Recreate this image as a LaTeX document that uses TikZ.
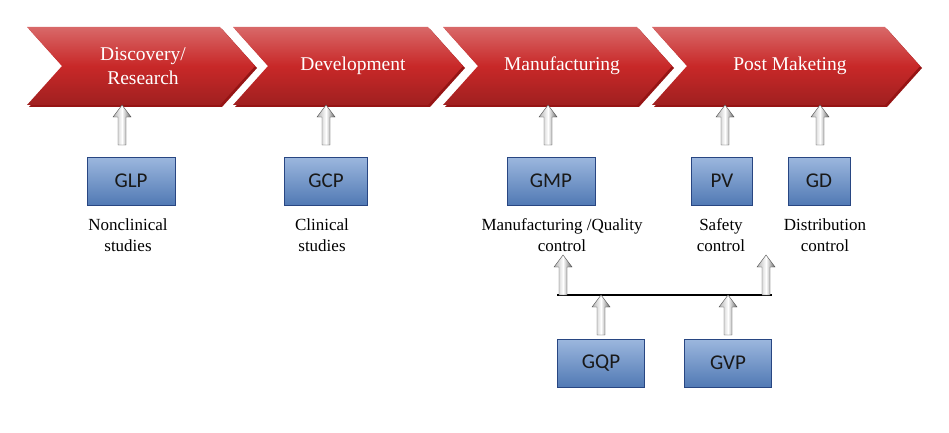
\documentclass[tikz,border=0pt]{standalone}
\usepackage{fontspec}
\setmainfont{Liberation Serif}
\newfontfamily\boxfont{Carlito}
\usetikzlibrary{calc}
\definecolor{chevred}{RGB}{200,40,40}
\definecolor{chevdark}{RGB}{150,20,20}
\definecolor{boxblue}{RGB}{90,135,200}
\definecolor{boxdark}{RGB}{40,70,130}
\tikzset{x=1pt,y=1pt,
 chevtext/.style={text=white,font=\fontsize{19.5}{24}\selectfont,align=center},
 gbox/.style={draw=boxdark,line width=1pt,top color=boxblue!60!white,bottom color=boxblue!90!black,minimum height=48pt,font=\boxfont\fontsize{21}{23}\selectfont,text=black!90},
 lbl/.style={font=\fontsize{17}{21}\selectfont,align=center}}
\newcommand\chev[2]{%
 \fill[chevdark] (#1+2,-29) -- (#2-33,-29) -- (#2+2,-68) -- (#2-33,-107) -- (#1+2,-107) -- (#1+37,-68) -- cycle;
 \shade[top color=chevred!70!white,bottom color=chevred!80!black,middle color=chevred] (#1,-27) -- (#2-35,-27) -- (#2,-66) -- (#2-35,-105) -- (#1,-105) -- (#1+35,-66) -- cycle;}
\newcommand\harrow[2]{%
 \draw[gray!60!black,left color=gray!60,right color=gray!80!black,middle color=white] let \p1=#1, \p2=#2 in
 (\x1-4pt,\y1) -- (\x1-4pt,\y2-12pt) -- (\x1-9pt,\y2-12pt) -- (\x1,\y2) -- (\x1+9pt,\y2-12pt) -- (\x1+4pt,\y2-12pt) -- (\x1+4pt,\y1) -- cycle;}
\begin{document}
\begin{tikzpicture}
\useasboundingbox (0,0) rectangle (949,-433);
\chev{27}{255}
\chev{233}{463}
\chev{443}{672}
\chev{652}{920}
\node[chevtext] (c1) at (143,-66) {Discovery/\\Research};
\node[chevtext] (c2) at (353,-66) {Development};
\node[chevtext] (c3) at (562,-66) {Manufacturing};
\node[chevtext] (c4) at (790,-66) {Post Maketing};
\node[gbox,minimum width=88pt] (glp) at (131,-181) {GLP};
\node[gbox,minimum width=83pt] (gcp) at (326,-181) {GCP};
\node[gbox,minimum width=88pt] (gmp) at (551,-181) {GMP};
\node[gbox,minimum width=61pt] (pv) at (722,-181) {PV};
\node[gbox,minimum width=62pt] (gd) at (819,-181) {GD};
\node[gbox,minimum width=87pt] (gqp) at (601,-363) {GQP};
\node[gbox,minimum width=87pt] (gvp) at (728,-363) {GVP};
\node[lbl] (l1) at (128,-235) {Nonclinical\\studies};
\node[lbl] (l2) at (322,-235) {Clinical\\studies};
\node[lbl] (l3) at (562,-235) {Manufacturing /Quality\\control};
\node[lbl] (l4) at (721,-235) {Safety\\control};
\node[lbl] (l5) at (825,-235) {Distribution\\control};
\coordinate (la) at (557,-295);
\coordinate (lb) at (772,-295);
\draw[line width=1.5pt] (la) -- (lb);
\harrow{(122,-145)}{(122,-105)}
\harrow{(326,-145)}{(326,-105)}
\harrow{(548,-145)}{(548,-105)}
\harrow{(725,-145)}{(725,-105)}
\harrow{(820,-145)}{(820,-105)}
\harrow{(563,-295)}{(563,-255)}
\harrow{(766,-295)}{(766,-255)}
\harrow{(601,-335)}{(601,-295)}
\harrow{(728,-335)}{(728,-295)}
\end{tikzpicture}
\end{document}
